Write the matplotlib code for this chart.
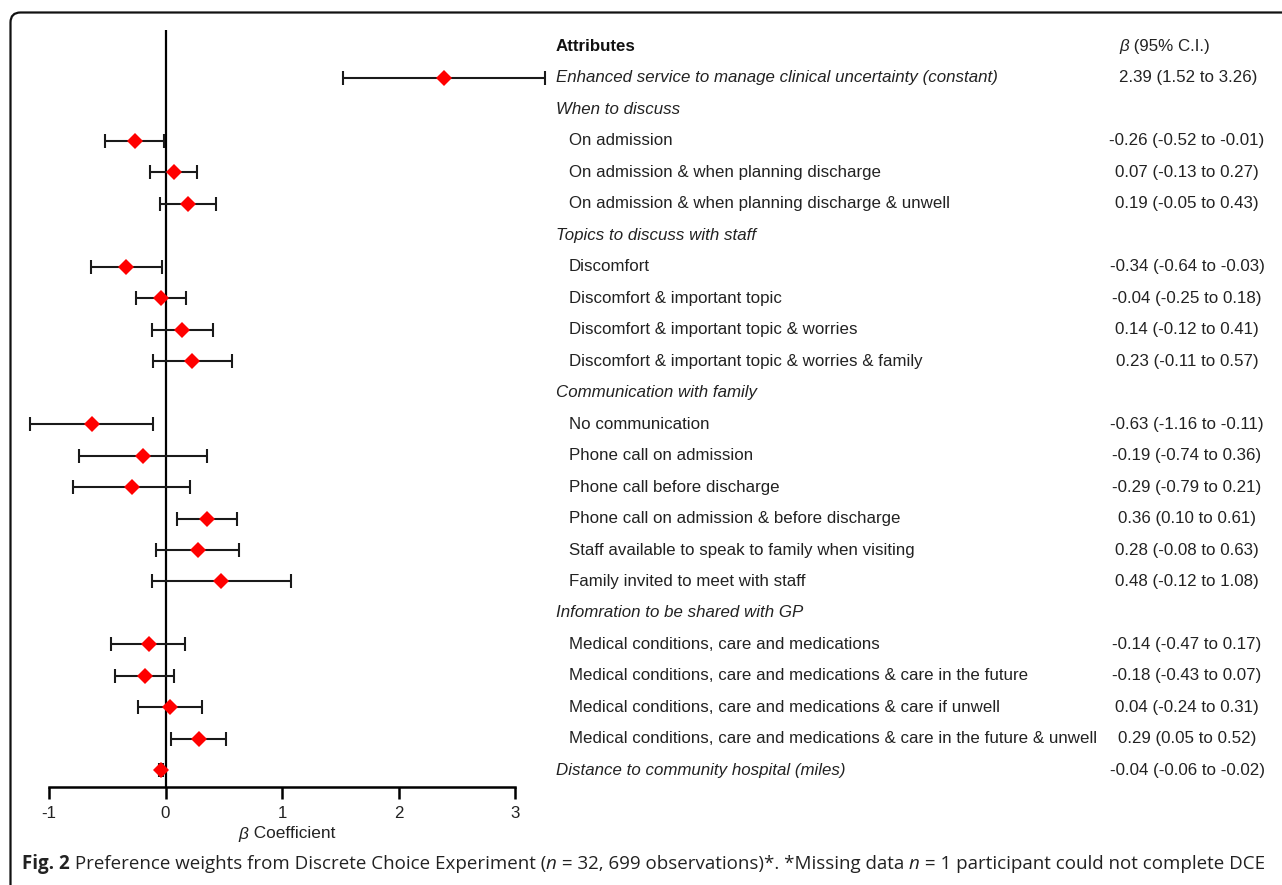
import matplotlib
matplotlib.use("Agg")
import matplotlib.pyplot as plt
from matplotlib.transforms import blended_transform_factory
from matplotlib.path import Path
from matplotlib.patches import PathPatch

# ---------------- data ----------------
row_labels = [
    "Attributes",
    "Enhanced service to manage clinical uncertainty (constant)",
    "When to discuss",
    "On admission",
    "On admission & when planning discharge",
    "On admission & when planning discharge & unwell",
    "Topics to discuss with staff",
    "Discomfort",
    "Discomfort & important topic",
    "Discomfort & important topic & worries",
    "Discomfort & important topic & worries & family",
    "Communication with family",
    "No communication",
    "Phone call on admission",
    "Phone call before discharge",
    "Phone call on admission & before discharge",
    "Staff available to speak to family when visiting",
    "Family invited to meet with staff",
    "Infomration to be shared with GP",
    "Medical conditions, care and medications",
    "Medical conditions, care and medications & care in the future",
    "Medical conditions, care and medications & care if unwell",
    "Medical conditions, care and medications & care in the future & unwell",
    "Distance to community hospital (miles)",
]
row_kind = ["title", "main", "group", "item", "item", "item", "group",
            "item", "item", "item", "item", "group", "item", "item", "item",
            "item", "item", "item", "group", "item", "item", "item", "item",
            "main"]

beta = [2.39, -0.26, 0.07, 0.19, -0.34, -0.04, 0.14, 0.23, -0.63, -0.19,
        -0.29, 0.36, 0.28, 0.48, -0.14, -0.18, 0.04, 0.29, -0.04]
ci_low = [1.52, -0.52, -0.13, -0.05, -0.64, -0.25, -0.12, -0.11, -1.16, -0.74,
          -0.79, 0.10, -0.08, -0.12, -0.47, -0.43, -0.24, 0.05, -0.06]
ci_high = [3.26, -0.01, 0.27, 0.43, -0.03, 0.18, 0.41, 0.57, -0.11, 0.36,
           0.21, 0.61, 0.63, 1.08, 0.17, 0.07, 0.31, 0.52, -0.02]

xticks = [-1, 0, 1, 2, 3]
xlabel_sym = "β"
xlabel_txt = " Coefficient"
ci_header = " (95% C.I.)"

# ---------------- layout ----------------
W, H = 1282, 885
fig = plt.figure(figsize=(W / 100, H / 100), dpi=100)
TF = "Liberation Sans"
CF = "Open Sans"
TXT = "#222222"

row_y0, row_dy = 46.5, 31.47          # pixel y of first row and spacing
ax_left, ax_right = 49, 515           # pixel x of -1 and 3
ax_top, ax_bot = 30, 787              # pixel y of axes top / bottom

ax = fig.add_axes([ax_left / W, 1 - ax_bot / H,
                   (ax_right - ax_left) / W, (ax_bot - ax_top) / H])
ax.set_xlim(-1, 3)
ax.set_ylim((ax_bot - row_y0) / row_dy, (ax_top - row_y0) / row_dy)

est_rows = [i for i, k in enumerate(row_kind) if k in ("main", "item")]
err_lo = [b - l for b, l in zip(beta, ci_low)]
err_hi = [h - b for b, h in zip(beta, ci_high)]

ax.axvline(0, color="black", lw=1.6, zorder=1)
eb = ax.errorbar(beta, est_rows, xerr=[err_lo, err_hi], fmt="none",
                 ecolor="#1a1a1a", elinewidth=1.5, capsize=5, capthick=1.5,
                 zorder=2)
for art in eb.lines[1] + eb.lines[2]:
    art.set_clip_on(False)
ax.plot(beta, est_rows, linestyle="none", marker="D", markersize=8.5,
        color="#ff0000", markeredgewidth=0, zorder=3, clip_on=False)

for s in ("top", "right", "left"):
    ax.spines[s].set_visible(False)
ax.spines["bottom"].set_linewidth(1.8)
ax.set_yticks([])
ax.set_xticks(xticks)
ax.set_xticklabels([str(t) for t in xticks], fontfamily=TF, fontsize=12.2,
                   color=TXT)
ax.tick_params(axis="x", direction="out", length=8.5, width=1.8, pad=5)
ax.patch.set_alpha(0)

renderer = fig.canvas.get_renderer()


def draw_runs(x_px, y_px, runs, ha="left", **common):
    texts = []
    x = x_px
    for s, kw in runs:
        opts = dict(common)
        opts.update(kw)
        t = fig.text(x / W, 1 - y_px / H, s, va="center", ha="left", **opts)
        bb = t.get_window_extent(renderer)
        x += bb.width
        texts.append(t)
    total = x - x_px
    if ha == "center":
        for t in texts:
            px, py = t.get_position()
            t.set_position((px - total / 2 / W, py))
    return total


# table text
tr = blended_transform_factory(fig.transFigure, ax.transData)
fs = 12.2
for i, (lab, kind) in enumerate(zip(row_labels, row_kind)):
    if kind == "title":
        fig.text(556 / W, i, lab, transform=tr, fontfamily=TF, fontsize=fs,
                 fontweight="bold", va="center", ha="left", color="#111111")
    elif kind in ("main", "group"):
        fig.text(556 / W, i, lab, transform=tr, fontfamily=TF, fontsize=fs,
                 fontstyle="italic", va="center", ha="left", color=TXT)
    else:
        fig.text(569 / W, i, lab, transform=tr, fontfamily=TF, fontsize=fs,
                 va="center", ha="left", color=TXT)

hdr_x = 1119
val_cx = 1187
for k, (r, b, l, h) in enumerate(zip(est_rows, beta, ci_low, ci_high)):
    s = f"{b:.2f} ({l:.2f} to {h:.2f})"
    if k == 0:
        fig.text(hdr_x / W, r, s, transform=tr, fontfamily=TF, fontsize=fs,
                 va="center", ha="left", color=TXT)
    else:
        fig.text(val_cx / W, r, s, transform=tr, fontfamily=TF, fontsize=fs,
                 va="center", ha="center", color=TXT)

# beta header
draw_runs(hdr_x, row_y0, [("β", dict(fontstyle="italic")), (ci_header, {})],
          fontfamily=TF, fontsize=fs, color=TXT)

# x label
draw_runs(287, 834,
          [(xlabel_sym, dict(fontstyle="italic")), (xlabel_txt, {})],
          ha="center", fontfamily=TF, fontsize=12.4, color=TXT)

# caption
draw_runs(22, 864, [
    ("Fig. 2", dict(fontweight="bold")),
    (" Preference weights from Discrete Choice Experiment (", {}),
    ("n", dict(fontstyle="italic")),
    (" = 32, 699 observations)*. *Missing data ", {}),
    ("n", dict(fontstyle="italic")),
    (" = 1 participant could not complete DCE", {}),
], fontfamily=CF, fontsize=13.5, color=TXT)

# frame with rounded top-left corner
r = 10
x0, y0 = 10.5, 12.5
verts = [(x0, H + 5), (x0, y0 + r), (x0, y0), (x0 + r, y0), (W + 5, y0)]
codes = [Path.MOVETO, Path.LINETO, Path.CURVE3, Path.CURVE3, Path.LINETO]
verts_fig = [(vx / W, 1 - vy / H) for vx, vy in verts]
fig.add_artist(PathPatch(Path(verts_fig, codes), transform=fig.transFigure,
                         fill=False, lw=1.6, edgecolor="#111111"))

fig.savefig("out.png", dpi=100)
